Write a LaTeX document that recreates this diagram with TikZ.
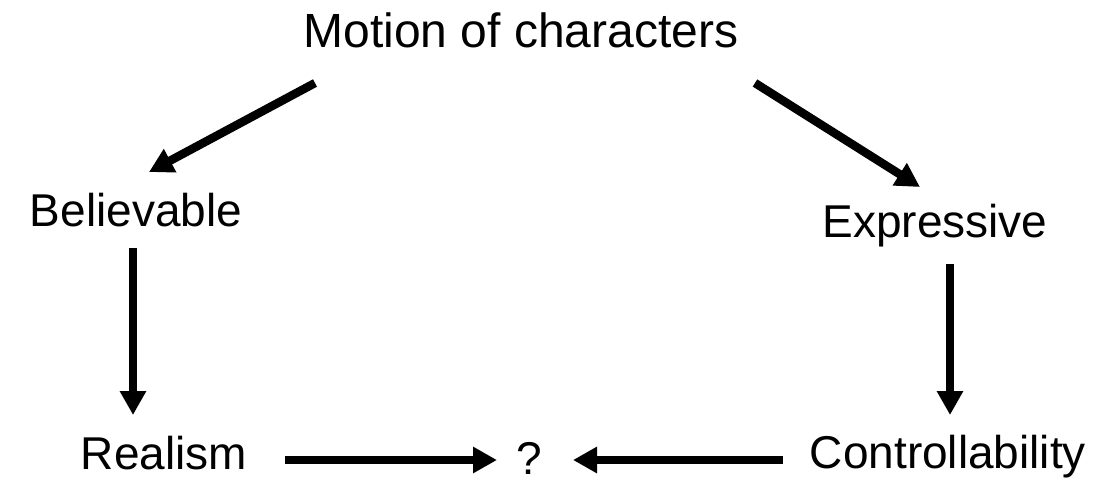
\documentclass[tikz,border=0pt]{standalone}
\usepackage{fontspec}
\setmainfont{Liberation Sans}
\usetikzlibrary{arrows.meta}
\begin{document}
\begin{tikzpicture}[x=1pt,y=-1pt,
  lbl/.style={inner sep=0pt,anchor=base,font=\fontsize{46}{55}\selectfont},
  arr/.style={line width=8.5pt,-{Triangle[length=24pt 0 0,width=25pt 0 0]}}]
\useasboundingbox (0,0) rectangle (1098,483);
\node[lbl,font=\fontsize{48}{58}\selectfont] (mot) at (521,47) {Motion of characters};
\node[lbl] (bel) at (136,226) {Believable};
\node[lbl] (exp) at (935,237) {Expressive};
\node[lbl] (rea) at (164,469) {Realism};
\node[lbl] (q) at (529,474) {?};
\node[lbl] (con) at (948,468) {Controllability};
% connector end points
\coordinate (a1s) at (315,83);  \coordinate (a1e) at (149,172);
\coordinate (a2s) at (755,83);  \coordinate (a2e) at (920,187);
\coordinate (a3s) at (133,248); \coordinate (a3e) at (133,415);
\coordinate (a4s) at (950,264); \coordinate (a4e) at (950,415);
\coordinate (a5s) at (285,460); \coordinate (a5e) at (497,460);
\coordinate (a6s) at (783,460); \coordinate (a6e) at (573,460);
\draw[arr] (a1s) -- (a1e);
\draw[arr] (a2s) -- (a2e);
\draw[arr] (a3s) -- (a3e);
\draw[arr] (a4s) -- (a4e);
\draw[arr] (a5s) -- (a5e);
\draw[arr] (a6s) -- (a6e);
\end{tikzpicture}
\end{document}
